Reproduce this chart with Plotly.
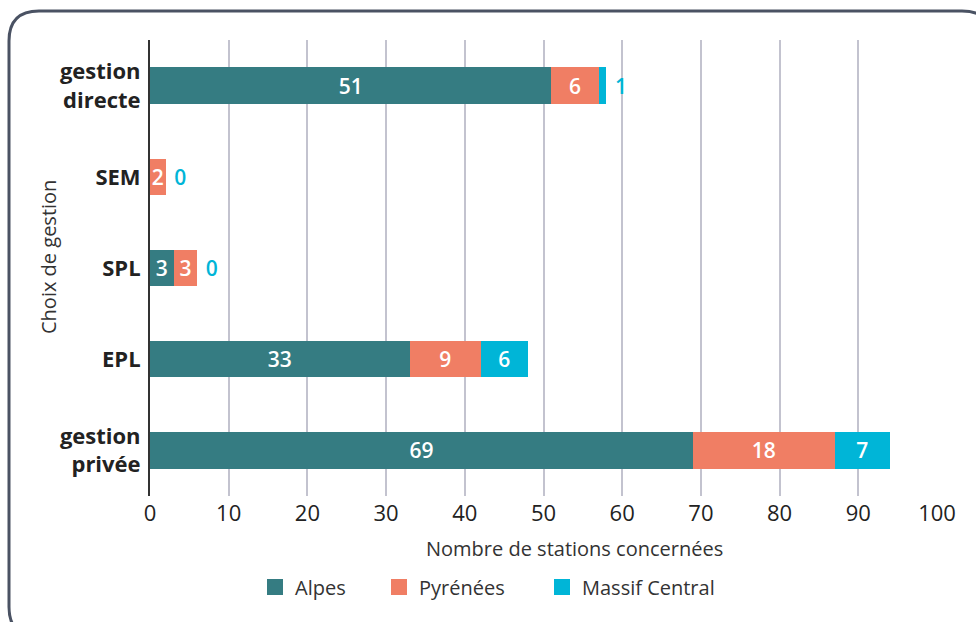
import plotly.graph_objects as go

categories = ["gestion<br>directe", "SEM", "SPL", "EPL", "gestion<br>privée"]
alpes = [51, 0, 3, 33, 69]
pyrenees = [6, 2, 3, 9, 18]
massif = [1, 0, 0, 6, 7]
x_ticks = [0, 10, 20, 30, 40, 50, 60, 70, 80, 90, 100]
series_names = ["Alpes", "Pyrénées", "Massif Central"]

C_ALPES = "#357c82"
C_PYR = "#f07e64"
C_MC = "#00b5d7"
COLORS = [C_ALPES, C_PYR, C_MC]
FONT = "Open Sans"

W, H = 976, 622
L, R, T, B = 150, 39, 40, 126
pw, ph = W - L - R, H - T - B


def px(x):
    return (x - L) / pw


def py(y):
    return (H - B - y) / ph


fig = go.Figure()

lab_font = dict(color="white", size=21, family=FONT, weight=600)

fig.add_trace(go.Bar(
    y=categories, x=alpes, name="Alpes", orientation="h", showlegend=False,
    marker=dict(color=C_ALPES, line=dict(width=0)),
    text=[str(v) if v > 0 else "" for v in alpes],
    textposition="inside", insidetextanchor="middle", constraintext="none",
    textfont=lab_font,
))
fig.add_trace(go.Bar(
    y=categories, x=pyrenees, name="Pyrénées", orientation="h", showlegend=False,
    marker=dict(color=C_PYR, line=dict(width=0)),
    text=[str(v) for v in pyrenees],
    textposition="inside", insidetextanchor="middle", constraintext="none",
    textfont=lab_font,
))
mc_pos = ["inside" if v >= 5 else "outside" for v in massif]
fig.add_trace(go.Bar(
    y=categories, x=massif, name="Massif Central", orientation="h", showlegend=False,
    marker=dict(color=C_MC, line=dict(width=0)),
    text=[str(v) if v >= 5 else " " + str(v) for v in massif],
    textposition=mc_pos, insidetextanchor="middle", constraintext="none",
    insidetextfont=lab_font,
    outsidetextfont=dict(color=C_MC, size=21, family=FONT, weight=600),
    cliponaxis=False,
))

# legend proxies (one legend per series for exact placement)
legend_x = [268, 392, 555]
for i, (nm, col) in enumerate(zip(series_names, COLORS)):
    lg = "legend" if i == 0 else f"legend{i + 1}"
    fig.add_trace(go.Scatter(
        x=[None], y=[None], mode="markers", name=nm, legend=lg,
        marker=dict(symbol="square", size=16, color=col),
        showlegend=True, hoverinfo="skip",
    ))

legend_common = dict(orientation="h", yanchor="middle", y=py(587), xanchor="left",
                     font=dict(size=20, color="#333333", family=FONT),
                     bgcolor="rgba(0,0,0,0)", borderwidth=0, itemwidth=30)
lay_legends = {}
for i, lx in enumerate(legend_x):
    key = "legend" if i == 0 else f"legend{i + 1}"
    lay_legends[key] = dict(legend_common, x=px(lx - 13))

# rounded frame
x0, x1 = px(9), px(992)
y0, y1 = py(11), py(637)
rx, ry = 30 / pw, 30 / ph
path = (
    f"M {x0},{y1 + ry} L {x0},{y0 - ry} Q {x0},{y0} {x0 + rx},{y0} "
    f"L {x1 - rx},{y0} Q {x1},{y0} {x1},{y0 - ry} "
    f"L {x1},{y1 + ry} Q {x1},{y1} {x1 - rx},{y1} "
    f"L {x0 + rx},{y1} Q {x0},{y1} {x0},{y1 + ry} Z"
)
fig.add_shape(type="path", path=path, xref="paper", yref="paper",
              line=dict(color="#4a5263", width=3), layer="above")

fig.add_annotation(text="Nombre de stations concernées", xref="paper", yref="paper",
                   x=px(574), y=py(548), xanchor="center", yanchor="middle",
                   showarrow=False, font=dict(size=20, color="#333333", family=FONT))
fig.add_annotation(text="Choix de gestion", xref="paper", yref="paper",
                   x=px(48), y=py(257), xanchor="center", yanchor="middle",
                   textangle=-90, showarrow=False,
                   font=dict(size=20, color="#333333", family=FONT))

fig.update_layout(
    width=W, height=H,
    margin=dict(l=L, r=R, t=T, b=B, autoexpand=False),
    barmode="stack", bargap=0.6,
    plot_bgcolor="white", paper_bgcolor="white",
    font=dict(family=FONT, color="#222222"),
    showlegend=True,
    xaxis=dict(
        range=[0, 100], tickvals=x_ticks, showgrid=True,
        gridcolor="#c3c3cf", gridwidth=1.5,
        zeroline=False, showline=False, automargin=False,
        tickfont=dict(size=22, color="#222222", family=FONT, weight=500),
        ticks="", ticklabelstandoff=2,
    ),
    yaxis=dict(
        autorange="reversed", showgrid=False, zeroline=False,
        showline=True, linecolor="#333333", linewidth=2,
        ticks="", automargin=False,
        tickfont=dict(size=22, color="#222222", family=FONT, weight="bold"),
        ticklabelstandoff=3,
    ),
    **lay_legends,
)

fig.write_html(
    "out.html",
    config={"displayModeBar": False},
    post_script="document.body.style.margin='0';document.body.style.overflow='hidden';",
)
